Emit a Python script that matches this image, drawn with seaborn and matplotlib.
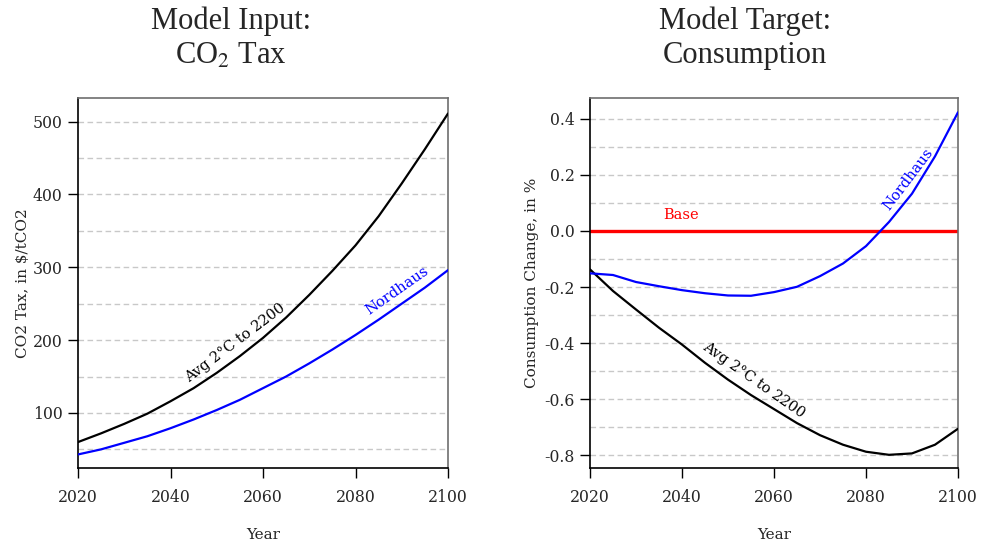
import numpy as np
import pandas as pd
import matplotlib
matplotlib.use('Agg')
import matplotlib.pyplot as plt
import seaborn as sns

# values (5-year steps)
years = [2020, 2025, 2030, 2035, 2040, 2045, 2050, 2055, 2060,
         2065, 2070, 2075, 2080, 2085, 2090, 2095, 2100]
tax_avg2c = [60, 72, 85, 99, 116, 134, 155, 178, 203,
             231, 262, 295, 330, 370, 415, 462, 511]
tax_nordhaus = [43, 50, 59, 68, 79, 91, 104, 118, 134,
                150, 168, 187, 207, 228, 250, 272, 296]
cons_avg2c = [-0.137, -0.214, -0.280, -0.345, -0.405, -0.470, -0.530, -0.585, -0.635,
              -0.685, -0.728, -0.762, -0.787, -0.798, -0.793, -0.762, -0.705]
cons_nordhaus = [-0.151, -0.157, -0.182, -0.197, -0.211, -0.222, -0.230, -0.231, -0.218,
                 -0.199, -0.161, -0.116, -0.054, 0.032, 0.133, 0.266, 0.423]
cons_base = [0.0] * len(years)

sns.set_style('ticks')
plt.rcParams['font.family'] = ['DejaVu Serif']
plt.rcParams['axes.unicode_minus'] = False
plt.rcParams['mathtext.fontset'] = 'stix'

fig = plt.figure(figsize=(9.84, 5.45), dpi=100)
ax1 = fig.add_axes([78 / 984, 77 / 545, 370 / 984, 370 / 545])
ax2 = fig.add_axes([590 / 984, 77 / 545, 368 / 984, 370 / 545])

tax = pd.DataFrame({'Year': years, 'Avg': tax_avg2c, 'Nordhaus': tax_nordhaus})
tax = tax.melt('Year', var_name='Scenario', value_name='Tax')
cons = pd.DataFrame({'Year': years, 'Avg': cons_avg2c, 'Nordhaus': cons_nordhaus})
cons = cons.melt('Year', var_name='Scenario', value_name='Change')

pal = {'Avg': 'black', 'Nordhaus': '#0000ff'}
sns.lineplot(data=tax, x='Year', y='Tax', hue='Scenario', palette=pal,
             lw=1.6, legend=False, ax=ax1, zorder=3)
sns.lineplot(data=cons, x='Year', y='Change', hue='Scenario', palette=pal,
             lw=1.6, legend=False, ax=ax2, zorder=3)
sns.lineplot(x=years, y=cons_base, color='#ff0000', lw=2.4, ax=ax2, zorder=2)

def style(ax, ylim, majors, minors, ylabel, labelpad):
    ax.set_xlim(2020, 2100)
    ax.set_ylim(*ylim)
    ax.set_xticks([2020, 2040, 2060, 2080, 2100])
    ax.set_yticks(majors)
    for v in list(majors) + list(minors):
        ax.axhline(v, color='#c8c8c8', lw=1, ls=(0, (4, 2.5)), zorder=0)
    ax.tick_params(axis='both', direction='out', length=7, width=1,
                   labelsize=11.3, color='black')
    ax.tick_params(axis='x', pad=8)
    ax.tick_params(axis='y', pad=4)
    ax.set_xlabel('Year', fontsize=11, labelpad=16)
    ax.set_ylabel(ylabel, fontsize=11, labelpad=labelpad)
    for s in ['left', 'bottom']:
        ax.spines[s].set_color('black')
        ax.spines[s].set_linewidth(1.2)
    for s in ['top', 'right']:
        ax.spines[s].set_visible(True)
        ax.spines[s].set_color('#6e6e6e')
        ax.spines[s].set_linewidth(1.2)

style(ax1, (24.4, 532.3), [100, 200, 300, 400, 500], [50, 150, 250, 350, 450],
      'CO2 Tax, in $/tCO2', 2)
style(ax2, (-0.845, 0.474), [-0.8, -0.6, -0.4, -0.2, 0.0, 0.2, 0.4],
      [-0.7, -0.5, -0.3, -0.1, 0.1, 0.3], 'Consumption Change, in %', 4)
ax2.set_yticklabels(['-0.8', '-0.6', '-0.4', '-0.2', '0.0', '0.2', '0.4'])

# line labels
ax1.text(2054.1, 196, 'Avg 2°C to 2200', rotation=37, ha='center', va='center',
         fontsize=10.5, color='black')
ax1.text(2088.9, 268, 'Nordhaus', rotation=35, ha='center', va='center',
         fontsize=10.5, color='#0000ff')
ax2.text(2039.9, 0.058, 'Base', ha='center', va='center', fontsize=10.5, color='#ff0000')
ax2.text(2055.6, -0.531, 'Avg 2°C to 2200', rotation=-35, ha='center', va='center',
         fontsize=10.5, color='black')
ax2.text(2089.2, 0.183, 'Nordhaus', rotation=53, ha='center', va='center',
         fontsize=10.5, color='#0000ff')

# titles
tfont = dict(fontsize=22, ha='center', va='center', family=['Liberation Serif'])
fig.text(231 / 984, 1 - 21 / 545, 'Model Input:', **tfont)
fig.text(231 / 984, 1 - 56 / 545, r'CO$_2$ Tax', **tfont)
fig.text(745 / 984, 1 - 21 / 545, 'Model Target:', **tfont)
fig.text(745 / 984, 1 - 56 / 545, 'Consumption', **tfont)

fig.savefig('out.png', dpi=100)
